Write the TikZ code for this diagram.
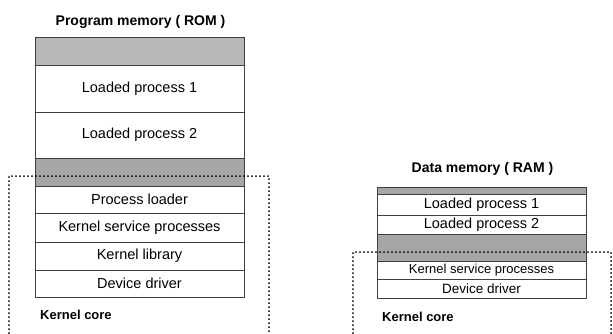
\documentclass[tikz,border=0pt]{standalone}
\usepackage{fontspec}
\setmainfont{Liberation Sans}
\begin{document}
\begin{tikzpicture}[x=1pt,y=-1pt,
  cell/.style={draw=black!75, line width=0.9pt, minimum width=209pt,
    inner sep=0pt, outer sep=0pt, anchor=center},
  big/.style={font=\fontsize{14.5}{16}\selectfont},
  shaded/.style={cell, fill=black!35},
  title/.style={font=\bfseries\fontsize{14}{16}\selectfont, anchor=base},
  corelabel/.style={font=\bfseries\fontsize{13}{15}\selectfont, anchor=base west, inner sep=0pt},
  region/.style={line width=2pt, dash pattern=on 0pt off 4pt, line cap=round}]
\useasboundingbox (0,0) rectangle (613,333);

% program memory stack
\node[title] (romtitle) at (140.5,25) {Program memory ( ROM )};
\node[shaded, fill=black!28, minimum height=28pt] (ls1) at (139.5,51) {};
\node[cell, big, minimum height=47pt] (lp1) at (139.5,88.5) {Loaded process 1};
\node[cell, big, minimum height=46pt] (lp2) at (139.5,135) {Loaded process 2};
\node[shaded, minimum height=28pt] (ls2) at (139.5,172) {};
\node[cell, big, minimum height=27pt] (lpl) at (139.5,199.5) {Process loader};
\node[cell, big, minimum height=29pt] (lksp) at (139.5,227.5) {Kernel service processes};
\node[cell, big, minimum height=28pt] (lkl) at (139.5,256) {Kernel library};
\node[cell, big, minimum height=27pt] (ldd) at (139.5,283.5) {Device driver};
\node[corelabel] (lcore) at (40,319) {Kernel core};

% data memory stack
\node[title] (ramtitle) at (482.5,172) {Data memory ( RAM )};
\node[shaded, minimum height=7pt] (rs1) at (481.5,190.5) {};
\node[cell, big, minimum height=21pt] (rlp1) at (481.5,204.5) {Loaded process 1};
\node[cell, big, minimum height=19pt] (rlp2) at (481.5,224.5) {Loaded process 2};
\node[shaded, minimum height=27pt] (rs2) at (481.5,247.5) {};
\node[cell, font=\fontsize{13}{15}\selectfont, minimum height=18pt] (rksp) at (481.5,270) {Kernel service processes};
\node[cell, font=\fontsize{13.5}{15}\selectfont, minimum height=19pt] (rdd) at (481.5,288.5) {Device driver};
\node[corelabel] (rcore) at (382,321) {Kernel core};

% kernel core regions, open at the bottom
\coordinate (lbl) at (9,333);
\coordinate (ltl) at (9,176);
\coordinate (ltr) at (269,176);
\coordinate (lbr) at (269,333);
\draw[region] (lbl) -- (ltl) -- (ltr) -- (lbr);
\coordinate (rbl) at (353,333);
\coordinate (rtl) at (353,252);
\coordinate (rtr) at (611,252);
\coordinate (rbr) at (611,333);
\draw[region] (rbl) -- (rtl) -- (rtr) -- (rbr);
\end{tikzpicture}
\end{document}
